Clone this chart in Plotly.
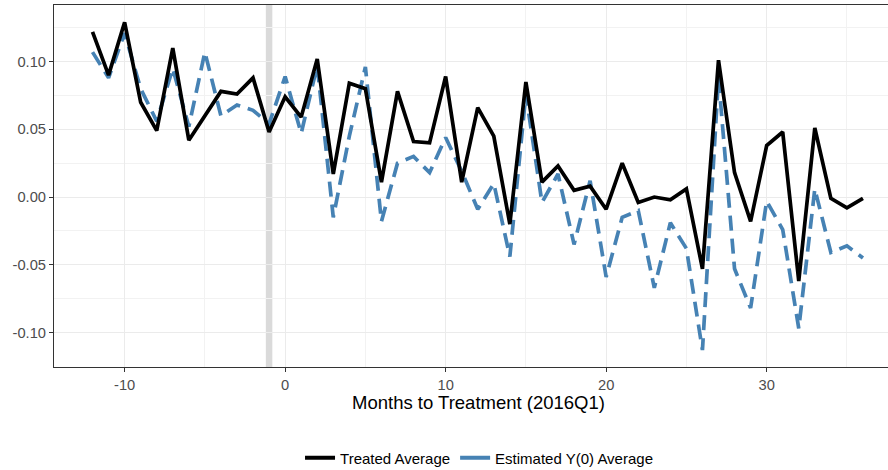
import plotly.graph_objects as go

months = list(range(-12, 37))
treated_avg = [0.122, 0.090, 0.129, 0.070, 0.049, 0.110, 0.042, 0.060, 0.078, 0.076,
               0.088, 0.048, 0.074, 0.059, 0.102, 0.017, 0.084, 0.080, 0.011, 0.078,
               0.041, 0.040, 0.089, 0.011, 0.066, 0.045, -0.020, 0.085, 0.011, 0.023,
               0.005, 0.008, -0.009, 0.025, -0.004, 0.000, -0.002, 0.006, -0.053, 0.101,
               0.018, -0.018, 0.038, 0.048, -0.062, 0.051, -0.001, -0.008, -0.001]
estimated_y0 = [0.107, 0.088, 0.121, 0.080, 0.056, 0.095, 0.052, 0.107, 0.060, 0.068,
                0.064, 0.054, 0.089, 0.047, 0.097, -0.015, 0.045, 0.096, -0.018, 0.025,
                0.030, 0.018, 0.044, 0.019, -0.009, 0.010, -0.044, 0.076, -0.004, 0.017,
                -0.035, 0.012, -0.059, -0.015, -0.010, -0.067, -0.019, -0.038, -0.113, 0.088,
                -0.053, -0.082, -0.003, -0.024, -0.097, 0.006, -0.041, -0.036, -0.045]
treatment_month = -1
x_tick_vals = [-10, 0, 10, 20, 30]
x_tick_text = ["-10", "0", "10", "20", "30"]
y_tick_vals = [-0.10, -0.05, 0.00, 0.05, 0.10]
y_tick_text = ["-0.10", "-0.05", "0.00", "0.05", "0.10"]
series_names = ["Treated Average", "Estimated Y(0) Average"]
x_title = "Months to Treatment (2016Q1)"

BLACK = "#000000"
BLUE = "#4682B4"
FONT = "Liberation Sans, Arial, Helvetica, sans-serif"

fig = go.Figure()
fig.add_trace(go.Scatter(x=months, y=estimated_y0, mode="lines", showlegend=False,
                         line=dict(color=BLUE, width=3.7, dash="15px,8px")))
fig.add_trace(go.Scatter(x=months, y=treated_avg, mode="lines", showlegend=False,
                         line=dict(color=BLACK, width=3.7)))
# legend keys (solid, as in the reference)
fig.add_trace(go.Scatter(x=[None], y=[None], mode="lines", name=series_names[0],
                         line=dict(color=BLACK, width=4)))
fig.add_trace(go.Scatter(x=[None], y=[None], mode="lines", name=series_names[1],
                         line=dict(color=BLUE, width=4)))

fig.add_shape(type="line", x0=treatment_month, x1=treatment_month, y0=0, y1=1,
              xref="x", yref="paper", layer="between",
              line=dict(color="#DADADA", width=6.5))

fig.add_annotation(text=x_title, xref="paper", yref="paper", x=0.5084, y=-0.0994,
                   xanchor="center", yanchor="middle", showarrow=False,
                   font=dict(family=FONT, size=18.5, color="#000000"))

axis_common = dict(showline=True, linecolor="#333333", linewidth=1,
                   ticks="outside", ticklen=4, tickwidth=1, tickcolor="#333333",
                   showgrid=True, gridcolor="#EBEBEB", gridwidth=1.2, zeroline=False,
                   automargin=False,
                   tickfont=dict(family=FONT, size=14.7, color="#4D4D4D"))

fig.update_layout(
    width=888, height=470,
    margin=dict(l=54, r=0, t=5, b=103, autoexpand=False),
    paper_bgcolor="white", plot_bgcolor="white",
    font=dict(family=FONT),
    xaxis=dict(range=[-14.4, 37.56], tickvals=x_tick_vals, ticktext=x_tick_text, mirror=True,
               minor=dict(dtick=5, tick0=-5, showgrid=True, gridcolor="#F2F2F2", gridwidth=0.8, ticks=""),
               **axis_common),
    yaxis=dict(range=[-0.1255, 0.1418], tickvals=y_tick_vals, ticktext=y_tick_text, mirror=False,
               minor=dict(dtick=0.05, tick0=0.025, showgrid=True, gridcolor="#F2F2F2", gridwidth=0.8, ticks=""),
               **axis_common),
    legend=dict(orientation="h", x=0.295, y=-0.2514, xanchor="left", yanchor="middle",
                font=dict(family=FONT, size=15, color="#000000"), bgcolor="rgba(0,0,0,0)",
                itemwidth=30),
)

fig.write_html("out.html", config={"displayModeBar": False},
               post_script="document.body.style.margin='0';document.body.style.overflow='hidden';")
